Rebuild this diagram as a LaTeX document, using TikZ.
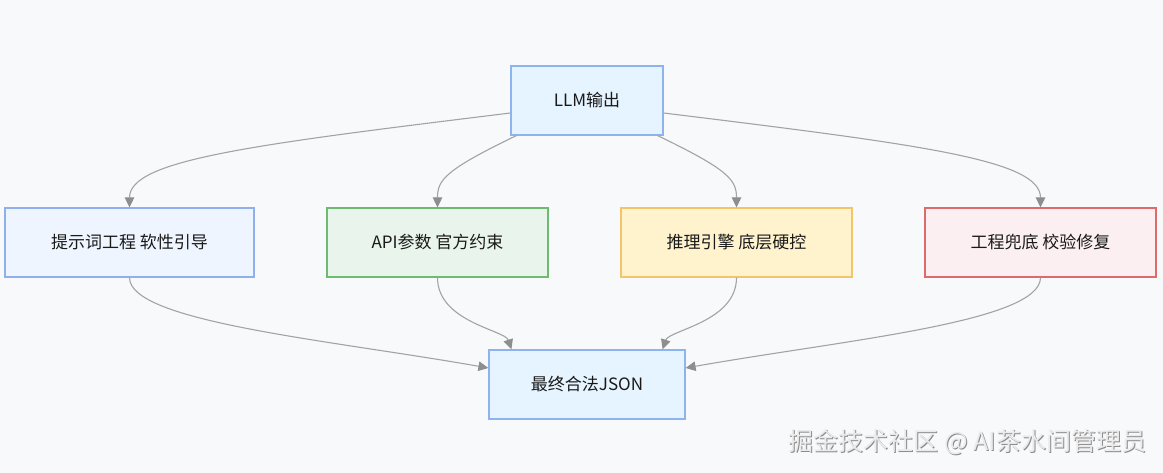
\documentclass[tikz,border=0pt]{standalone}
\usepackage{fontspec}
\setmainfont{Noto Sans CJK SC}
\usetikzlibrary{arrows.meta}
\definecolor{bgcol}{HTML}{F8F9FB}
\definecolor{edgecol}{HTML}{A3A3A3}
\definecolor{tipcol}{HTML}{8E8E8E}
\definecolor{llmfill}{HTML}{E5F4FE}
\definecolor{llmline}{HTML}{8DB4EE}
\definecolor{promptfill}{HTML}{EFF5FF}
\definecolor{promptline}{HTML}{8FB0EC}
\definecolor{apifill}{HTML}{E9F5EC}
\definecolor{apiline}{HTML}{6DBB6F}
\definecolor{enginefill}{HTML}{FFF3CE}
\definecolor{engineline}{HTML}{F2C46C}
\definecolor{fixfill}{HTML}{FBEFF1}
\definecolor{fixline}{HTML}{DE6B6B}

\begin{document}
\begin{tikzpicture}[x=1pt,y=-1pt,
  box/.style={draw, line width=1.2pt, minimum height=69pt, inner sep=0pt,
    text=black!90, font=\fontsize{17}{20}\selectfont},
  flow/.style={draw=edgecol, line width=1.1pt,
    -{Triangle[length=10pt,width=9.5pt,color=tipcol,fill=tipcol]}}]
\fill[bgcol] (0,0) rectangle (1163,473);
\useasboundingbox (0,0) rectangle (1163,473);

\node[box, fill=llmfill, draw=llmline, minimum width=152pt] (llm) at (587,100.5) {LLM输出};
\node[box, fill=promptfill, draw=promptline, minimum width=249pt] (prompt) at (129.5,242.5) {提示词工程 软性引导};
\node[box, fill=apifill, draw=apiline, minimum width=221pt] (api) at (437.5,242.5) {API参数 官方约束};
\node[box, fill=enginefill, draw=engineline, minimum width=231pt] (engine) at (736.5,242.5) {推理引擎 底层硬控};
\node[box, fill=fixfill, draw=fixline, minimum width=231pt] (fix) at (1040.5,242.5) {工程兜底 校验修复};
\node[box, fill=llmfill, draw=llmline, minimum width=196pt] (json) at (587,384.5) {最终合法JSON};

\draw[flow] ([yshift=-12.5pt]llm.west) .. controls (250,145) and (129.5,160) .. (prompt.north);
\draw[flow] ([xshift=6pt]llm.south west) .. controls (445,170) and (437.5,180) .. (api.north);
\draw[flow] ([xshift=-6pt]llm.south east) .. controls (729,170) and (736.5,180) .. (engine.north);
\draw[flow] ([yshift=-12.5pt]llm.east) .. controls (924,145) and (1040.5,160) .. (fix.north);

\draw[flow] (prompt.south) .. controls (129.5,322) and (330,340) .. ([yshift=16.5pt]json.west);
\draw[flow] (api.south) .. controls (437.5,322) and (505,330) .. ([xshift=23pt]json.north west);
\draw[flow] (engine.south) .. controls (736.5,322) and (669,330) .. ([xshift=-23pt]json.north east);
\draw[flow] (fix.south) .. controls (1040.5,322) and (844,340) .. ([yshift=16.5pt]json.east);

\node[text=black!45, font=\fontsize{25}{30}\selectfont] (markshadow) at (968.5,443.5) {掘金技术社区 @ AI茶水间管理员};
\node[text=black!8, font=\fontsize{25}{30}\selectfont] (mark) at (967.5,442.5) {掘金技术社区 @ AI茶水间管理员};
\end{tikzpicture}
\end{document}
